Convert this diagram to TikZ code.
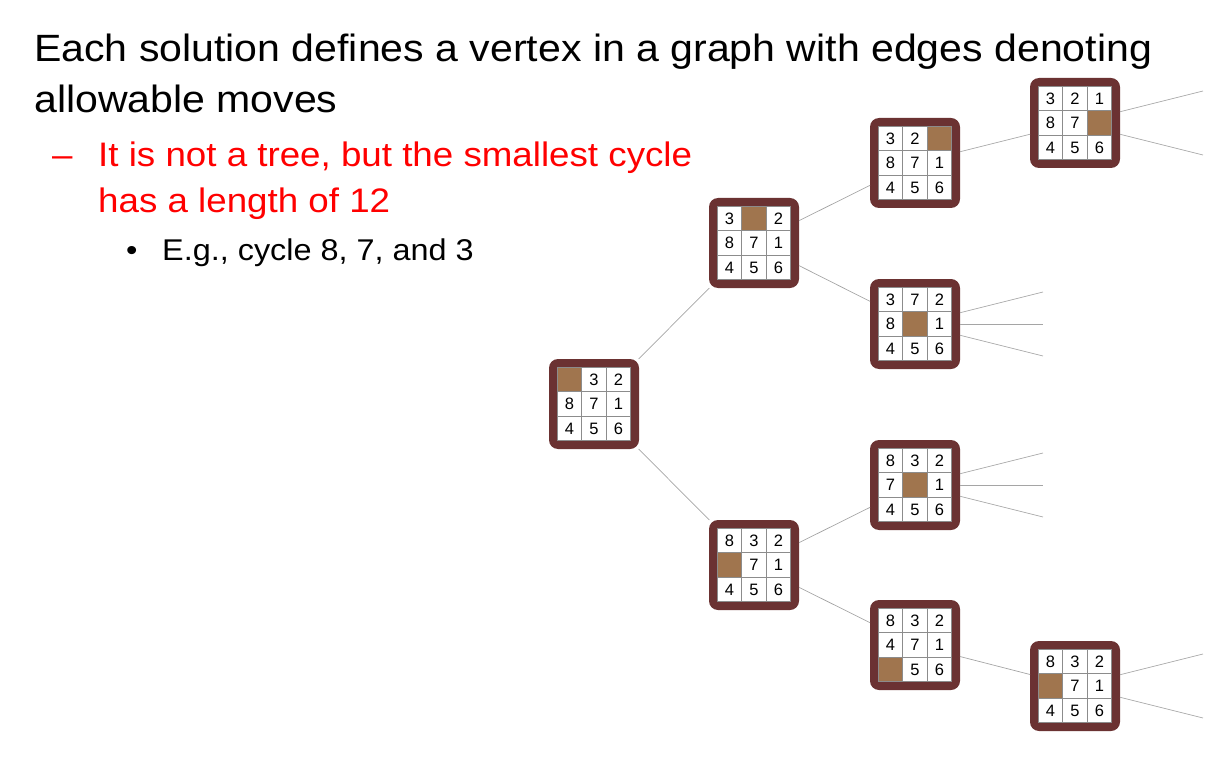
\documentclass[tikz,border=0pt]{standalone}
\usepackage{fontspec}
\setmainfont{Liberation Sans}[FakeStretch=1.08]
\newfontfamily\cellfont{Liberation Sans}
\usetikzlibrary{calc}
\definecolor{puzborder}{RGB}{107,50,50}
\definecolor{blankcell}{RGB}{160,117,78}
\definecolor{edgegray}{RGB}{165,165,165}
\definecolor{cellgray}{RGB}{140,140,140}
\tikzset{
  puzbox/.style={rectangle, rounded corners=9pt, fill=puzborder, minimum size=90pt, inner sep=0pt, outer sep=0pt},
  cell/.style={rectangle, draw=cellgray, line width=0.6pt, fill=white, minimum size=24.5pt, inner sep=0pt, font=\cellfont\fontsize{16.5}{16.5}\selectfont},
  blank/.style={cell, fill=blankcell},
  edge/.style={draw=edgegray, line width=0.7pt},
  title/.style={anchor=base west, inner sep=0pt, font=\fontsize{38}{38}\selectfont},
  sub/.style={anchor=base west, inner sep=0pt, text=red, font=\fontsize{34}{34}\selectfont},
  subsub/.style={anchor=base west, inner sep=0pt, font=\fontsize{30}{30}\selectfont}
}
\newcommand\puz[3]{%
  \node[puzbox] (#1) at (#2) {};
  \foreach \v [count=\k from 0] in {#3} {
    \pgfmathtruncatemacro\rr{div(\k,3)}
    \pgfmathtruncatemacro\cc{mod(\k,3)}
    \ifnum\v=0
      \node[blank] at ($(#1.center)+(\cc*24.5-24.5,\rr*24.5-24.5)$) {};
    \else
      \node[cell] at ($(#1.center)+(\cc*24.5-24.5,\rr*24.5-24.5)$) {\v};
    \fi
  }%
}
\begin{document}
\begin{tikzpicture}[x=1pt,y=-1pt]
\useasboundingbox (0,0) rectangle (1225,767);
% text
\node[title] (t1) at (34,62) {Each solution defines a vertex in a graph with edges denoting};
\node[title] (t2) at (34,113) {allowable moves};
\node[sub] (d1) at (52,167) {–};
\node[sub] (s1) at (98,167) {It is not a tree, but the smallest cycle};
\node[sub] (s2) at (98,213) {has a length of 12};
\node[subsub] (b1) at (126,260) {•};
\node[subsub] (e1) at (162,260) {E.g., cycle 8, 7, and 3};
% puzzles
\puz{r}{594,404}{0,3,2,8,7,1,4,5,6}
\puz{a}{754,243}{3,0,2,8,7,1,4,5,6}
\puz{b}{915,163}{3,2,0,8,7,1,4,5,6}
\puz{c}{1075,123}{3,2,1,8,7,0,4,5,6}
\puz{d}{915,324}{3,7,2,8,0,1,4,5,6}
\puz{e}{915,485}{8,3,2,7,0,1,4,5,6}
\puz{f}{754,565}{8,3,2,0,7,1,4,5,6}
\puz{g}{915,645}{8,3,2,4,7,1,0,5,6}
\puz{h}{1075,686}{8,3,2,0,7,1,4,5,6}
% free ends
\coordinate (c1) at (1203,91);
\coordinate (c2) at (1203,155);
\coordinate (d1e) at (1043,292);
\coordinate (d2e) at (1043,324);
\coordinate (d3e) at (1043,356);
\coordinate (e1e) at (1043,453);
\coordinate (e2e) at (1043,485);
\coordinate (e3e) at (1043,517);
\coordinate (h1) at (1203,654);
\coordinate (h2) at (1203,718);
% edges
\draw[edge] (r) -- (a);
\draw[edge] (r) -- (f);
\draw[edge] (a) -- (b);
\draw[edge] (a) -- (d);
\draw[edge] (b) -- (c);
\draw[edge] (f) -- (e);
\draw[edge] (f) -- (g);
\draw[edge] (g) -- (h);
\draw[edge] (c) -- (c1);
\draw[edge] (c) -- (c2);
\draw[edge] (d) -- (d1e);
\draw[edge] (d) -- (d2e);
\draw[edge] (d) -- (d3e);
\draw[edge] (e) -- (e1e);
\draw[edge] (e) -- (e2e);
\draw[edge] (e) -- (e3e);
\draw[edge] (h) -- (h1);
\draw[edge] (h) -- (h2);
\end{tikzpicture}
\end{document}
